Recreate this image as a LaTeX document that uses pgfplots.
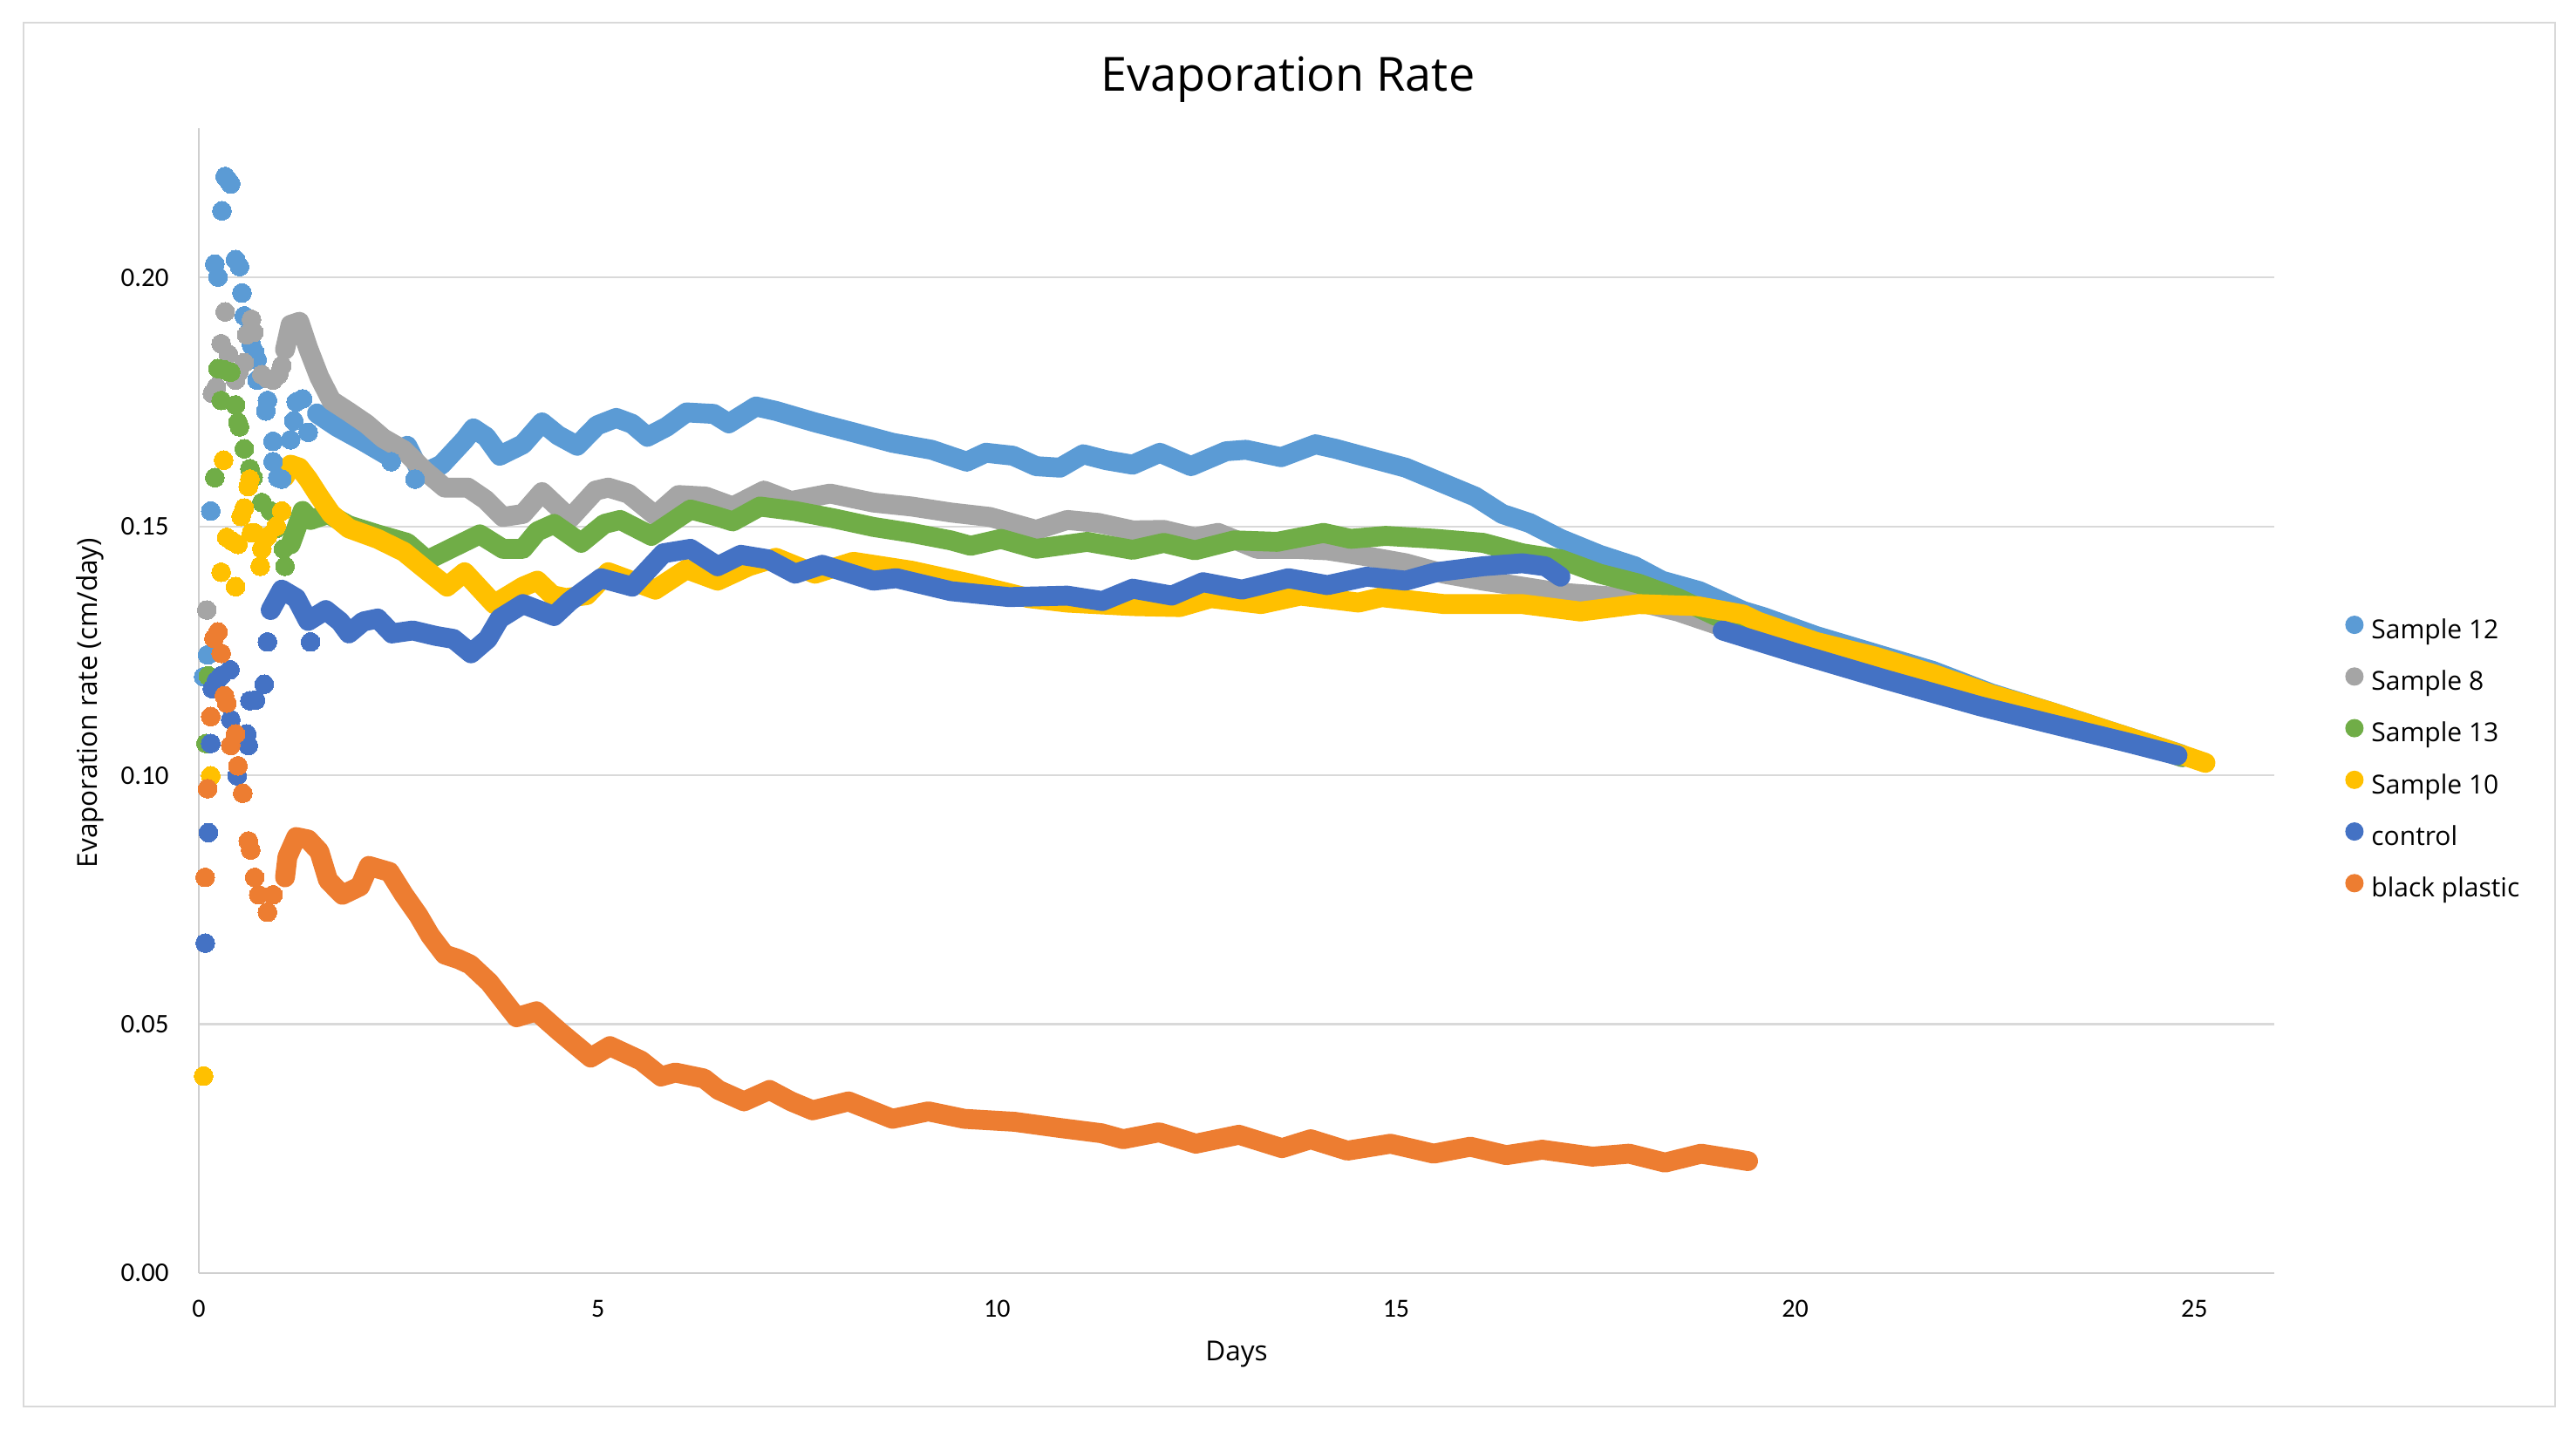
\documentclass[border=0pt]{standalone}
\usepackage{pgfplots}
\pgfplotsset{compat=1.18}
\usepackage{fontspec}
\newfontfamily\opensans{Open Sans}
\newfontfamily\carlito{Carlito}
\definecolor{c12}{HTML}{5B9BD5}
\definecolor{c8}{HTML}{A5A5A5}
\definecolor{c13}{HTML}{70AD47}
\definecolor{c10}{HTML}{FFC000}
\definecolor{cctrl}{HTML}{4472C4}
\definecolor{cbp}{HTML}{ED7D31}
\definecolor{gridgray}{HTML}{D9D9D9}
\definecolor{axisgray}{HTML}{CFCFCF}
\definecolor{bordergray}{HTML}{D9D9D9}
\pgfplotsset{
 scatterdots/.style={only marks, mark=*, mark size=3.6pt, color=#1, mark options={solid, line width=0pt, draw=#1, fill=#1}, forget plot},
 bandline/.style={color=#1, no marks, line width=7.6pt, line cap=round, line join=round, forget plot},
}
\begin{document}
\begin{tikzpicture}
\useasboundingbox (-76pt,-65pt) rectangle (908.7pt,486.7pt);
\fill[white] (-76pt,-65pt) rectangle (908.7pt,486.7pt);
\draw[bordergray, line width=0.75pt] (-67pt,-51pt) rectangle (900.7pt,478pt);
\begin{axis}[
 at={(0pt,0pt)}, anchor=south west,
 scale only axis, width=793.3pt, height=437.7pt,
 xmin=0, xmax=26, ymin=0, ymax=0.23,
 axis lines*=left,
 axis line style={draw=axisgray, line width=0.8pt, -},
 xtick={0,5,10,15,20,25},
 ytick={0,0.05,0.1,0.15,0.2},
 ymajorgrids,
 grid style={gridgray, line width=0.75pt},
 major tick length=0pt,
 tick style={draw=none},
 /pgf/number format/assume math mode=true,
 yticklabel={\pgfmathprintnumber[fixed,fixed zerofill,precision=2]{\tick}},
 xticklabel style={font=\carlito\fontsize{10}{12}\selectfont, anchor=base, yshift=-16.7pt, inner sep=0pt},
 yticklabel style={font=\carlito\fontsize{10.3}{12}\selectfont, anchor=east, xshift=-11.3pt, inner sep=0pt},
 clip=false,
 unbounded coords=jump,
 legend style={draw=none, fill=none, inner sep=0pt, outer sep=0pt,
   at={(rel axis cs:1.03429,0.57420)}, anchor=north west,
   font=\opensans\fontsize{10}{12}\selectfont,
   row sep=8.65pt, column sep=3.0pt,
   nodes={inner sep=0pt, text height=7.3pt, text depth=2.3pt}},
 legend cell align=left,
]
% ---------------- Sample 12 ----------------
\addplot[scatterdots=c12] coordinates {
(0.06,0.1198)(0.11,0.1242)(0.15,0.1531)(0.20,0.2027)(0.24,0.2001)(0.29,0.2134)(0.33,0.2203)(0.37,0.2195)(0.40,0.2188)
(0.46,0.2036)(0.51,0.2022)(0.54,0.1969)(0.57,0.1923)(0.62,0.1890)(0.66,0.1864)(0.70,0.1850)(0.73,0.1835)(0.73,0.1794)
(0.84,0.1732)(0.86,0.1753)(0.93,0.1671)(0.93,0.1630)(0.99,0.1598)(1.04,0.1595)(1.15,0.1674)(1.19,0.1712)(1.22,0.1750)
(1.30,0.1756)(1.37,0.1689)(2.41,0.1630)(2.71,0.1595)
};
\addplot[bandline=c12] coordinates {
(1.48,0.1727)(1.73,0.1700)(2.06,0.1671)(2.39,0.1640)(2.61,0.1662)(2.79,0.1605)(3.04,0.1624)(3.33,0.1674)(3.44,0.1697)
(3.60,0.1680)(3.77,0.1642)(4.06,0.1665)(4.30,0.1709)(4.50,0.1683)(4.74,0.1662)(4.99,0.1703)(5.23,0.1718)(5.43,0.1706)
(5.62,0.1680)(5.86,0.1700)(6.11,0.1729)(6.45,0.1726)(6.64,0.1707)(6.98,0.1741)(7.23,0.1732)(7.72,0.1709)(8.20,0.1689)
(8.69,0.1668)(9.18,0.1654)(9.62,0.1630)(9.86,0.1648)(10.20,0.1642)(10.49,0.1621)(10.79,0.1618)(11.08,0.1645)(11.37,0.1633)
(11.70,0.1624)(12.04,0.1648)(12.43,0.1621)(12.87,0.1651)(13.12,0.1654)(13.56,0.1639)(13.99,0.1665)(14.24,0.1656)(14.63,0.1639)
(15.12,0.1618)(15.60,0.1586)(15.99,0.1560)(16.33,0.1525)(16.67,0.1507)(17.06,0.1475)(17.55,0.1443)(17.99,0.1420)(18.33,0.1391)
(18.80,0.1370)(19.35,0.1330)(19.60,0.1318)(20.26,0.1280)(20.99,0.1245)(21.72,0.1210)(22.45,0.1165)(23.19,0.1128)(23.92,0.1090)
(24.65,0.1052)(24.84,0.1042)
};
% ---------------- Sample 8 ----------------
\addplot[scatterdots=c8] coordinates {
(0.10,0.1332)(0.17,0.1767)(0.22,0.1780)(0.28,0.1867)(0.33,0.1931)(0.37,0.1846)(0.46,0.1794)(0.50,0.1810)(0.57,0.1829)
(0.60,0.1885)(0.66,0.1916)(0.69,0.1890)(0.79,0.1805)(0.86,0.1797)(0.93,0.1794)(1.00,0.1805)(1.04,0.1823)
};
\addplot[bandline=c8] coordinates {
(1.08,0.1855)(1.15,0.1905)(1.26,0.1911)(1.37,0.1858)(1.51,0.1800)(1.66,0.1753)(1.88,0.1730)(2.10,0.1706)(2.31,0.1677)
(2.57,0.1653)(2.82,0.1613)(3.08,0.1578)(3.37,0.1578)(3.59,0.1554)(3.81,0.1519)(4.06,0.1525)(4.30,0.1569)(4.65,0.1516)
(4.97,0.1572)(5.13,0.1578)(5.38,0.1566)(5.72,0.1522)(6.01,0.1563)(6.35,0.1560)(6.69,0.1540)(7.08,0.1572)(7.42,0.1551)
(7.91,0.1566)(8.45,0.1548)(8.93,0.1540)(9.42,0.1528)(9.91,0.1519)(10.49,0.1493)(10.88,0.1513)(11.27,0.1507)(11.70,0.1492)
(12.09,0.1493)(12.48,0.1478)(12.77,0.1487)(13.26,0.1455)(13.75,0.1455)(14.14,0.1452)(14.63,0.1440)(15.12,0.1426)(15.60,0.1405)
(16.09,0.1391)(16.58,0.1379)(17.06,0.1367)(17.80,0.1358)(18.53,0.1329)(19.01,0.1303)(19.60,0.1290)(20.30,0.1262)(21.00,0.1230)
(21.70,0.1198)(22.50,0.1158)(23.20,0.1122)(23.90,0.1086)(24.60,0.1050)(24.85,0.1036)
};
% ---------------- Sample 13 ----------------
\addplot[scatterdots=c13] coordinates {
(0.09,0.1064)(0.12,0.1200)(0.20,0.1598)(0.24,0.1817)(0.28,0.1753)(0.31,0.1815)(0.37,0.1811)(0.40,0.1810)(0.46,0.1744)
(0.49,0.1709)(0.51,0.1700)(0.57,0.1656)(0.64,0.1616)(0.68,0.1598)(0.79,0.1548)(0.90,0.1531)(0.97,0.1496)(1.06,0.1455)
(1.08,0.1420)
};
\addplot[bandline=c13] coordinates {
(1.15,0.1464)(1.30,0.1531)(1.40,0.1513)(1.62,0.1525)(1.88,0.1502)(2.24,0.1484)(2.61,0.1467)(2.86,0.1432)(3.15,0.1455)
(3.52,0.1484)(3.81,0.1455)(4.06,0.1455)(4.24,0.1490)(4.45,0.1505)(4.79,0.1467)(5.08,0.1505)(5.28,0.1513)(5.67,0.1481)
(6.16,0.1534)(6.45,0.1522)(6.69,0.1510)(7.03,0.1540)(7.47,0.1531)(7.96,0.1516)(8.45,0.1499)(8.93,0.1487)(9.42,0.1472)
(9.67,0.1461)(10.05,0.1475)(10.49,0.1455)(11.13,0.1469)(11.70,0.1453)(12.09,0.1467)(12.48,0.1452)(12.97,0.1472)(13.51,0.1469)
(14.09,0.1487)(14.43,0.1475)(14.87,0.1481)(15.50,0.1475)(16.09,0.1467)(16.58,0.1446)(17.06,0.1434)(17.55,0.1405)(18.04,0.1385)
(18.53,0.1356)(19.01,0.1320)(19.60,0.1300)(20.30,0.1262)(21.00,0.1228)(21.70,0.1195)(22.50,0.1155)(23.20,0.1120)(23.90,0.1085)
(24.60,0.1050)(24.85,0.1037)
};
% ---------------- Sample 10 ----------------
\addplot[scatterdots=c10] coordinates {
(0.06,0.0396)(0.15,0.0999)(0.28,0.1408)(0.31,0.1633)(0.35,0.1478)(0.42,0.1470)(0.46,0.1379)(0.49,0.1464)(0.53,0.1520)
(0.57,0.1537)(0.62,0.1580)(0.64,0.1595)(0.66,0.1487)(0.70,0.1487)(0.77,0.1420)(0.79,0.1455)(0.86,0.1480)(0.97,0.1500)
(1.04,0.1531)
};
\addplot[bandline=c10] coordinates {
(1.08,0.1600)(1.15,0.1624)(1.26,0.1618)(1.37,0.1595)(1.51,0.1560)(1.66,0.1525)(1.88,0.1496)(2.24,0.1475)(2.57,0.1449)
(2.79,0.1420)(3.11,0.1379)(3.33,0.1408)(3.70,0.1344)(4.06,0.1379)(4.24,0.1391)(4.43,0.1362)(4.60,0.1356)(4.86,0.1362)
(5.13,0.1408)(5.72,0.1373)(6.11,0.1414)(6.50,0.1391)(6.89,0.1420)(7.23,0.1437)(7.72,0.1405)(8.20,0.1429)(8.93,0.1411)
(9.67,0.1385)(10.40,0.1356)(10.88,0.1347)(11.70,0.1340)(12.29,0.1338)(12.68,0.1356)(13.31,0.1344)(13.80,0.1361)(14.53,0.1347)
(14.82,0.1358)(15.60,0.1344)(16.58,0.1344)(17.31,0.1329)(18.04,0.1344)(18.77,0.1340)(19.35,0.1323)(19.53,0.1309)(20.26,0.1268)
(20.99,0.1239)(21.72,0.1204)(22.45,0.1163)(23.19,0.1128)(23.92,0.1090)(24.65,0.1052)(25.14,0.1025)
};
% ---------------- control ----------------
\addplot[scatterdots=cctrl] coordinates {
(0.08,0.0663)(0.12,0.0885)(0.15,0.1064)(0.17,0.1174)(0.22,0.1190)(0.28,0.1200)(0.39,0.1212)(0.40,0.1112)(0.48,0.0999)
(0.60,0.1083)(0.62,0.1060)(0.64,0.1150)(0.71,0.1151)(0.82,0.1183)(0.86,0.1268)(1.40,0.1268)
};
\addplot[bandline=cctrl] coordinates {
(0.90,0.1332)(1.04,0.1373)(1.22,0.1356)(1.37,0.1310)(1.59,0.1332)(1.77,0.1309)(1.88,0.1285)(2.06,0.1309)(2.24,0.1315)
(2.42,0.1285)(2.68,0.1291)(2.97,0.1280)(3.19,0.1274)(3.41,0.1245)(3.62,0.1274)(3.77,0.1315)(4.06,0.1344)(4.45,0.1320)
(4.65,0.1350)(5.04,0.1396)(5.43,0.1379)(5.82,0.1446)(6.16,0.1455)(6.50,0.1420)(6.79,0.1443)(7.13,0.1434)(7.47,0.1405)
(7.81,0.1423)(8.45,0.1391)(8.74,0.1396)(9.42,0.1370)(10.15,0.1358)(10.88,0.1361)(11.32,0.1350)(11.70,0.1375)(12.19,0.1361)
(12.58,0.1388)(13.07,0.1373)(13.65,0.1396)(14.14,0.1382)(14.63,0.1399)(15.12,0.1391)(15.50,0.1408)(16.09,0.1420)(16.58,0.1426)
(16.87,0.1420)(17.06,0.1399)(18.00,nan)(19.09,0.1291)(20.02,0.1245)(21.14,0.1192)(22.31,0.1139)(23.19,0.1104)(24.16,0.1066)
(24.79,0.1040)
};
% ---------------- black plastic ----------------
\addplot[scatterdots=cbp] coordinates {
(0.08,0.0795)(0.11,0.0973)(0.15,0.1118)(0.19,0.1275)(0.24,0.1288)(0.28,0.1245)(0.32,0.1160)(0.35,0.1145)(0.40,0.1060)
(0.46,0.1083)(0.49,0.1019)(0.55,0.0964)(0.62,0.0868)(0.65,0.0850)(0.70,0.0795)(0.75,0.0760)(0.86,0.0725)(0.93,0.0760)
};
\addplot[bandline=cbp] coordinates {
(1.08,0.0795)(1.11,0.0836)(1.22,0.0876)(1.37,0.0871)(1.51,0.0847)(1.62,0.0789)(1.80,0.0760)(2.02,0.0777)(2.13,0.0818)
(2.39,0.0806)(2.57,0.0760)(2.75,0.0719)(2.90,0.0678)(3.08,0.0640)(3.25,0.0631)(3.40,0.0620)(3.64,0.0584)(3.98,0.0514)
(4.23,0.0526)(4.52,0.0485)(4.91,0.0433)(5.15,0.0456)(5.54,0.0427)(5.79,0.0395)(5.97,0.0403)(6.33,0.0391)(6.51,0.0368)
(6.83,0.0345)(7.15,0.0368)(7.42,0.0345)(7.69,0.0327)(8.14,0.0345)(8.69,0.0310)(9.14,0.0325)(9.59,0.0310)(10.22,0.0304)
(10.77,0.0292)(11.31,0.0281)(11.58,0.0269)(12.03,0.0283)(12.49,0.0260)(13.03,0.0278)(13.57,0.0251)(13.93,0.0269)(14.39,0.0246)
(14.93,0.0260)(15.47,0.0240)(15.93,0.0254)(16.38,0.0237)(16.83,0.0248)(17.46,0.0234)(17.92,0.0240)(18.37,0.0222)(18.82,0.0240)
(19.41,0.0225)
};
% ---------------- legend ----------------
\addlegendimage{legend image code/.code={\fill[c12] (3.3pt,2.8pt) circle[radius=3.3pt];}}
\addlegendentry{Sample 12}
\addlegendimage{legend image code/.code={\fill[c8] (3.3pt,2.8pt) circle[radius=3.3pt];}}
\addlegendentry{Sample 8}
\addlegendimage{legend image code/.code={\fill[c13] (3.3pt,2.8pt) circle[radius=3.3pt];}}
\addlegendentry{Sample 13}
\addlegendimage{legend image code/.code={\fill[c10] (3.3pt,2.8pt) circle[radius=3.3pt];}}
\addlegendentry{Sample 10}
\addlegendimage{legend image code/.code={\fill[cctrl] (3.3pt,2.8pt) circle[radius=3.3pt];}}
\addlegendentry{control}
\addlegendimage{legend image code/.code={\fill[cbp] (3.3pt,2.8pt) circle[radius=3.3pt];}}
\addlegendentry{black plastic}
\end{axis}
\node[anchor=base, font=\opensans\fontsize{18}{21}\selectfont] at (416.3pt,451.7pt) {Evaporation Rate};
\node[anchor=base, font=\opensans\fontsize{10.5}{12}\selectfont] at (396.7pt,-33.5pt) {Days};
\node[anchor=base, rotate=90, font=\opensans\fontsize{10.5}{12}\selectfont] at (-38.8pt,218pt) {Evaporation rate (cm/day)};
\end{tikzpicture}
\end{document}
